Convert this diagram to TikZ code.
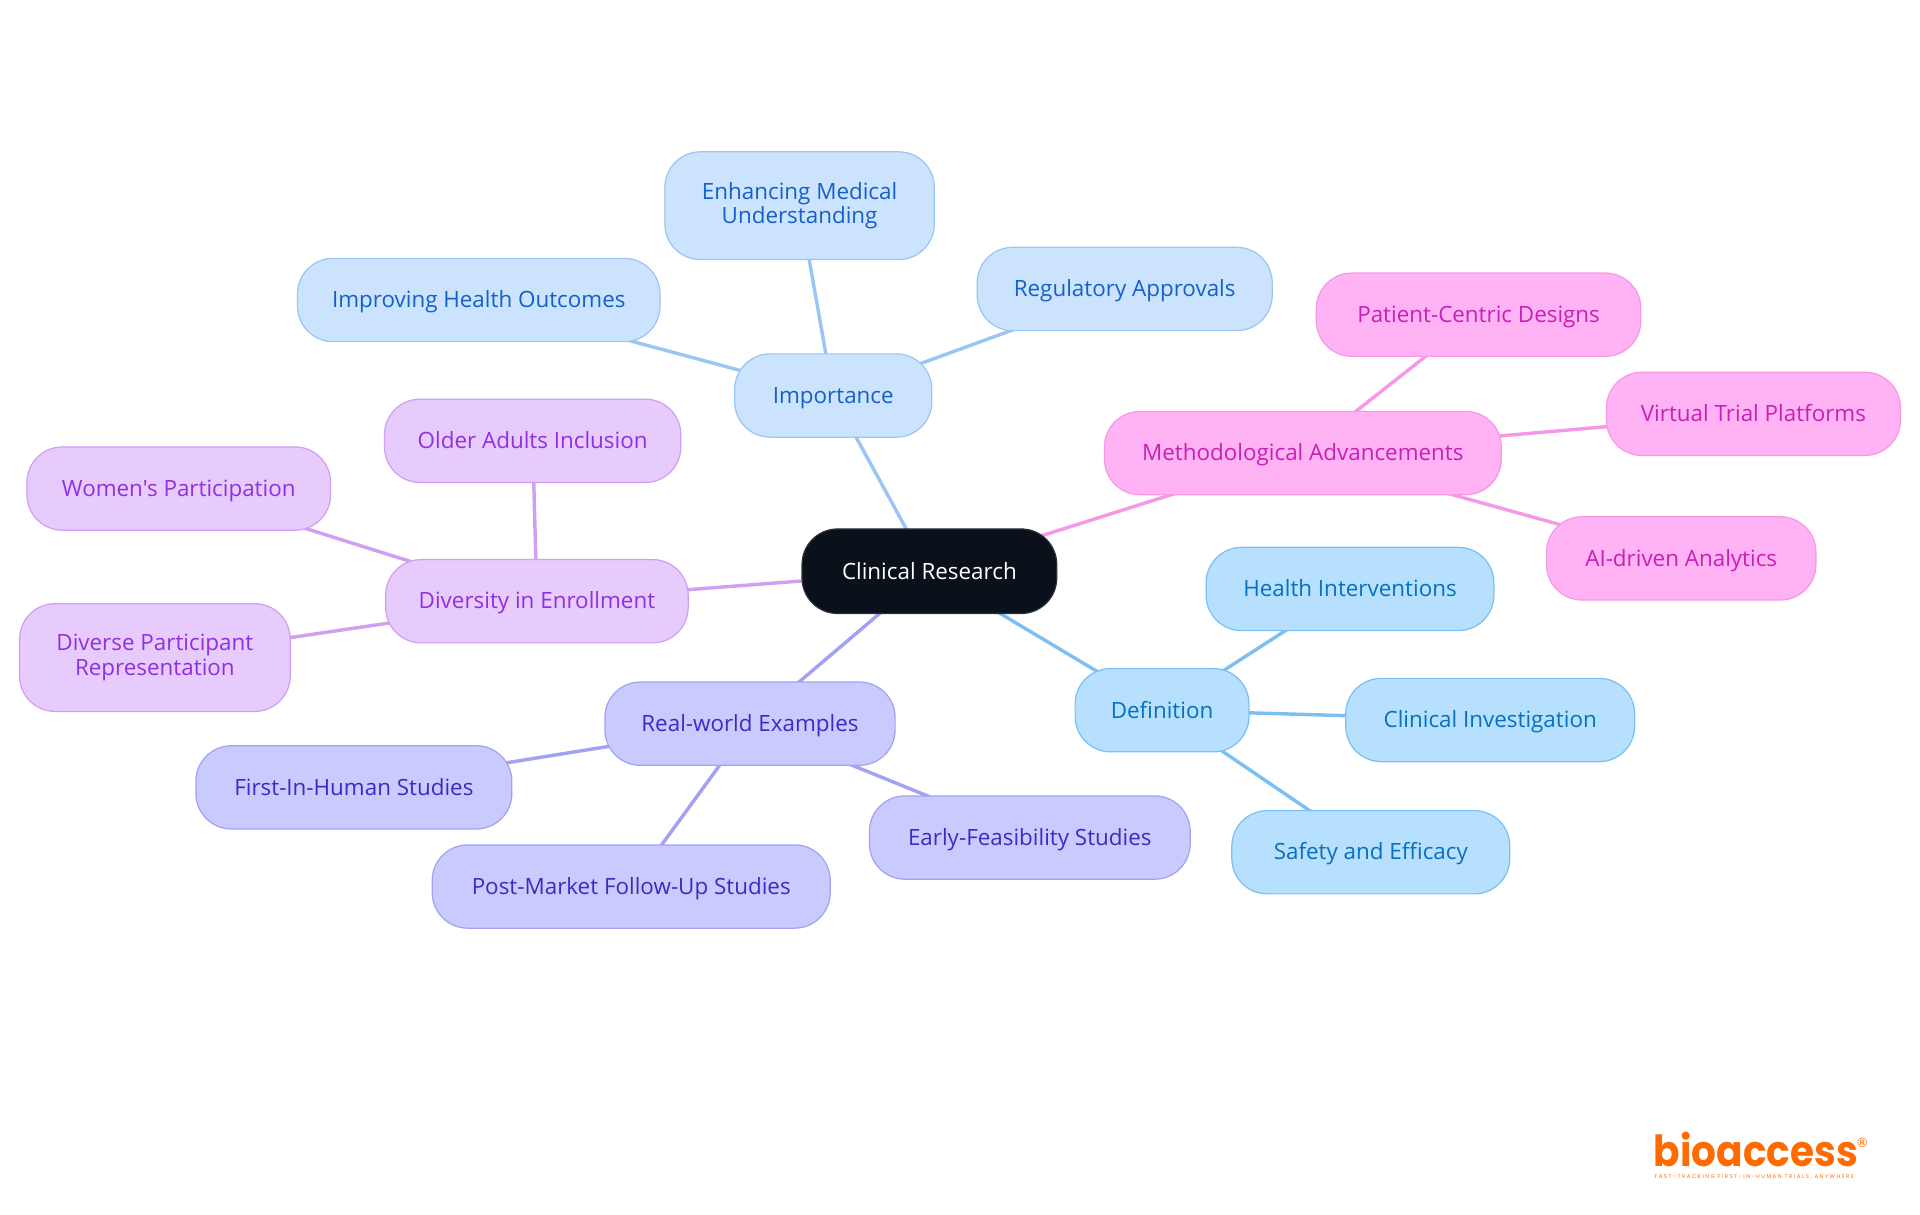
\documentclass[tikz,border=0pt]{standalone}
\usepackage{fontspec}
\usepackage{graphicx}
\newfontfamily\pillfont{Open Sans}
\newfontfamily\logofont{Poppins}
\newfontfamily\regfont{DejaVu Sans}
\usetikzlibrary{backgrounds}
\definecolor{impF}{HTML}{CCE3FD}\definecolor{impD}{HTML}{9AC5F4}\definecolor{impT}{HTML}{1560C9}
\definecolor{defF}{HTML}{B6E0FE}\definecolor{defD}{HTML}{7CC0F3}\definecolor{defT}{HTML}{0870BD}
\definecolor{metF}{HTML}{FFB3F4}\definecolor{metD}{HTML}{F598E8}\definecolor{metT}{HTML}{C81FB8}
\definecolor{divF}{HTML}{E7CBFD}\definecolor{divD}{HTML}{CFA0F2}\definecolor{divT}{HTML}{9030DF}
\definecolor{reaF}{HTML}{C9CBFE}\definecolor{reaD}{HTML}{A2A1F2}\definecolor{reaT}{HTML}{3B2BC4}
\definecolor{rootF}{HTML}{0A111B}\definecolor{rootD}{HTML}{2A3038}
\definecolor{logoC}{HTML}{FF6B00}
\newcommand\pillstrut{\rule[-4pt]{0pt}{21pt}}
\tikzset{
  pill/.style={rectangle,rounded corners=29pt,inner sep=0pt,align=center,line width=1pt,
    font=\pillfont\fontsize{18.3}{20}\selectfont,
    execute at begin node=\pillstrut,execute at end node=\pillstrut},
  size/.style 2 args={minimum width=#1pt,minimum height=#2pt},
  imp/.style={pill,draw=impD,fill=impF,text=impT},
  def/.style={pill,draw=defD,fill=defF,text=defT},
  met/.style={pill,draw=metD,fill=metF,text=metT},
  dvr/.style={pill,draw=divD,fill=divF,text=divT},
  rea/.style={pill,draw=reaD,fill=reaF,text=reaT},
  rootbox/.style={pill,draw=rootD,fill=rootF,text=white},
  link/.style={line width=2.8pt},
  logotext/.style={inner sep=0pt,text=logoC,anchor=base west}
}
\begin{document}
\begin{tikzpicture}[x=1pt,y=-1pt]
\useasboundingbox (0,0) rectangle (1568,992.25);
\node[rootbox,size={208}{69}] (root) at (759,466.5) {Clinical Research};
\node[imp,size={161}{68}] (importance) at (680.5,323) {Importance};
\node[imp,size={220}{88}] (enhancing) at (653,168) {Enhancing Medical\\Understanding};
\node[imp,size={296}{68}] (improving) at (391,245) {Improving Health Outcomes};
\node[imp,size={241}{68}] (regulatory) at (918.5,236) {Regulatory Approvals};
\node[met,size={324}{68}] (method) at (1064,370) {Methodological Advancements};
\node[met,size={265}{68}] (patient) at (1207.5,257) {Patient-Centric Designs};
\node[met,size={240}{68}] (virtual) at (1432,338) {Virtual Trial Platforms};
\node[met,size={220}{68}] (ai) at (1373,456) {AI-driven Analytics};
\node[def,size={142}{68}] (definition) at (949,580) {Definition};
\node[def,size={235}{68}] (health) at (1102.5,481) {Health Interventions};
\node[def,size={236}{68}] (investigation) at (1217,588) {Clinical Investigation};
\node[def,size={227}{68}] (safety) at (1119.5,696) {Safety and Efficacy};
\node[rea,size={237}{68}] (realworld) at (612.5,591) {Real-world Examples};
\node[rea,size={258}{68}] (first) at (289,643) {First-In-Human Studies};
\node[rea,size={325}{68}] (post) at (515.5,724) {Post-Market Follow-Up Studies};
\node[rea,size={262}{68}] (early) at (841,684) {Early-Feasibility Studies};
\node[dvr,size={247}{68}] (diversity) at (438.5,491) {Diversity in Enrollment};
\node[dvr,size={242}{68}] (older) at (435,360) {Older Adults Inclusion};
\node[dvr,size={248}{68}] (women) at (146,399) {Women's Participation};
\node[dvr,size={221}{88}] (diverse) at (126.5,537) {Diverse Participant\\Representation};
\begin{scope}[on background layer]
  \draw[link,impD] (root.center) -- (importance.center);
  \draw[link,impD] (importance.center) -- (enhancing.center);
  \draw[link,impD] (importance.center) -- (improving.center);
  \draw[link,impD] (importance.center) -- (regulatory.center);
  \draw[link,metD] (root.center) -- (method.center);
  \draw[link,metD] (method.center) -- (patient.center);
  \draw[link,metD] (method.center) -- (virtual.center);
  \draw[link,metD] (method.center) -- (ai.center);
  \draw[link,defD] (root.center) -- (definition.center);
  \draw[link,defD] (definition.center) -- (health.center);
  \draw[link,defD] (definition.center) -- (investigation.center);
  \draw[link,defD] (definition.center) -- (safety.center);
  \draw[link,reaD] (root.center) -- (realworld.center);
  \draw[link,reaD] (realworld.center) -- (first.center);
  \draw[link,reaD] (realworld.center) -- (post.center);
  \draw[link,reaD] (realworld.center) -- (early.center);
  \draw[link,divD] (root.center) -- (diversity.center);
  \draw[link,divD] (diversity.center) -- (older.center);
  \draw[link,divD] (diversity.center) -- (women.center);
  \draw[link,divD] (diversity.center) -- (diverse.center);
\end{scope}
\node[logotext] (logo) at (1350.5,953) {\smash{\scalebox{0.91}[1]{\logofont\bfseries\fontsize{35}{35}\selectfont bioaccess}}};
\node[logotext] (tag) at (1351,962.5) {\logofont\addfontfeature{LetterSpace=28.5}\fontsize{4.4}{5}\selectfont FAST-TRACKING FIRST-IN-HUMAN TRIALS, ANYWHERE};
\node[logotext] (reg) at (1515.5,937) {\regfont\fontsize{10.5}{11}\selectfont ®};
\end{tikzpicture}
\end{document}
